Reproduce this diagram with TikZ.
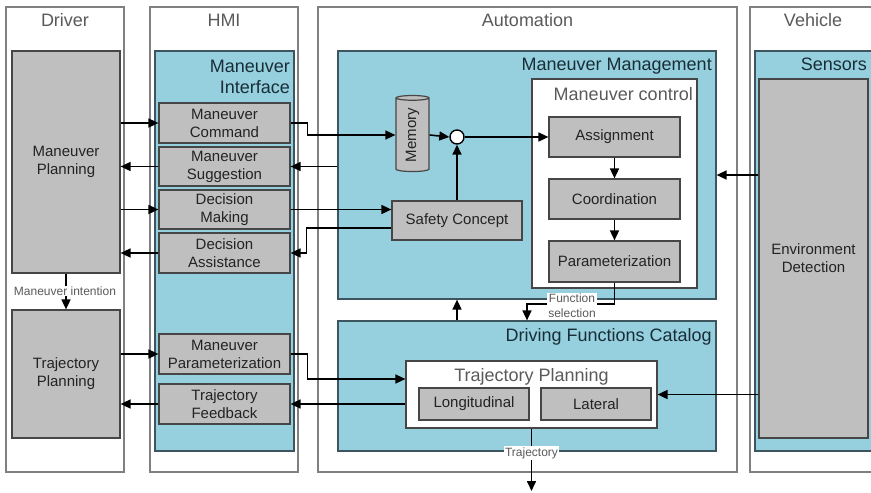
\documentclass[tikz,border=0pt]{standalone}
\usepackage{fontspec}
\setmainfont{Liberation Sans}
\usetikzlibrary{shapes.geometric,arrows.meta,calc}
\definecolor{colgray}{RGB}{128,128,128}
\definecolor{bluefill}{RGB}{150,208,222}
\definecolor{blueborder}{RGB}{60,85,95}
\definecolor{grayfill}{RGB}{191,191,191}
\definecolor{boxborder}{RGB}{70,70,70}
\definecolor{titlegray}{RGB}{90,90,90}
\definecolor{darktitle}{RGB}{25,45,55}
\definecolor{boxtext}{RGB}{35,35,35}
\begin{document}
\begin{tikzpicture}[x=1pt,y=-1pt,
  col/.style={draw=colgray, line width=1.2pt, fill=white, inner sep=0pt},
  bluebox/.style={draw=blueborder, line width=1.2pt, fill=bluefill, inner sep=0pt},
  whitebox/.style={draw=boxborder, line width=1.2pt, fill=white, inner sep=0pt},
  graybox/.style={draw=boxborder, line width=1.2pt, fill=grayfill, inner sep=0pt,
    font=\fontsize{15}{18}\selectfont, text=boxtext, align=center},
  coltitle/.style={font=\fontsize{18}{21.6}\selectfont, text=titlegray, inner sep=0pt, anchor=base},
  btitle/.style={font=\fontsize{18}{21.6}\selectfont, text=darktitle, inner sep=0pt, anchor=base east},
  wtitle/.style={font=\fontsize{18}{21.6}\selectfont, text=titlegray, inner sep=0pt},
  small/.style={font=\fontsize{12}{14.5}\selectfont, text=titlegray, fill=white, inner sep=1pt, align=center},
  arr/.style={line width=1.6pt, -{Triangle[length=10pt,width=9pt]}},
  sz/.style 2 args={minimum width=#1pt, minimum height=#2pt}
]
\useasboundingbox (0,0) rectangle (871,493);

% columns
\node[col, sz={118}{465}] (driver) at (65,239.5) {};
\node[col, sz={148}{465}] (hmi) at (224,239.5) {};
\node[col, sz={419}{465}] (auto) at (527.5,239.5) {};
\node[col, sz={128}{465}] (veh) at (814,239.5) {};
\node[coltitle] (tdriver) at (65,26.5) {Driver};
\node[coltitle] (thmi) at (224,26.5) {HMI};
\node[coltitle] (tauto) at (527.5,26.5) {Automation};
\node[coltitle] (tveh) at (813,26.5) {Vehicle};

% blue containers
\node[bluebox, sz={139}{400}] (mi) at (224.5,251) {};
\node[btitle] (tmi1) at (290,72.5) {Maneuver};
\node[btitle] (tmi2) at (290,93.5) {Interface};
\node[bluebox, sz={378}{248}] (mm) at (527,175) {};
\node[btitle] (tmm) at (712,70.5) {Maneuver Management};
\node[bluebox, sz={378}{130}] (dfc) at (527,386) {};
\node[btitle] (tdfc) at (712,341.5) {Driving Functions Catalog};
\node[bluebox, sz={118}{400}] (sens) at (814,251) {};
\node[btitle] (tsens) at (867,70.5) {Sensors};

% white containers
\node[whitebox, sz={165}{209}] (mctrl) at (614.5,183.5) {};
\node[wtitle, anchor=base east] (tmctrl) at (693,100.5) {Maneuver control};
\node[whitebox, sz={251}{67}] (trajp) at (531.5,394.5) {};
\node[wtitle, anchor=base] (ttrajp) at (531.5,381.5) {Trajectory Planning};

% gray boxes
\node[graybox, sz={108}{222}] (mp) at (66,162) {Maneuver\\Planning};
\node[graybox, sz={108}{128}] (tp) at (66,374) {Trajectory\\Planning};
\node[graybox, sz={131}{40}] (mc) at (224.5,123) {Maneuver\\Command};
\node[graybox, sz={131}{39}] (ms) at (224.5,166.5) {Maneuver\\Suggestion};
\node[graybox, sz={131}{39}] (dm) at (224.5,209.5) {Decision\\Making};
\node[graybox, sz={131}{40}] (da) at (224.5,253) {Decision\\Assistance};
\node[graybox, sz={131}{40}] (mpz) at (224.5,354) {Maneuver\\Parameterization};
\node[graybox, sz={131}{40}] (tf) at (224.5,404) {Trajectory\\Feedback};
\node[graybox, sz={131}{40}] (asg) at (614.5,137) {Assignment};
\node[graybox, sz={131}{40}] (coord) at (614.5,199) {Coordination};
\node[graybox, sz={131}{41}] (param) at (614.5,261.5) {Parameterization};
\node[graybox, sz={130}{39}] (safety) at (457,220.5) {Safety Concept};
\node[graybox, sz={110}{32}] (long) at (474,404) {Longitudinal};
\node[graybox, sz={110}{32}] (lat) at (596,404) {Lateral};
\node[graybox, sz={109}{359}] (ed) at (813.5,258.5) {Environment\\Detection};

% memory and junction
\node[cylinder, draw=boxborder, fill=grayfill, line width=1.2pt, rotate=90,
  minimum width=33pt, minimum height=76pt, aspect=0.35, inner sep=0pt,
  font=\fontsize{15}{18}\selectfont, text=boxtext] (mem) at (412.5,135) {Memory};
\node[circle, draw=black, fill=white, line width=1.4pt, minimum size=14pt, inner sep=0pt] (circ) at (457,137) {};

% driver <-> HMI
\draw[arr] (mp.east |- mc.west) -- (mc.west);
\draw[arr] (ms.west) -- (mp.east |- ms.west);
\draw[arr] (mp.east |- dm.west) -- (dm.west);
\draw[arr] (da.west) -- (mp.east |- da.west);
\draw[arr] (tp.east |- mpz.west) -- (mpz.west);
\draw[arr] (tf.west) -- (tp.east |- tf.west);
\draw[arr] (mp.south) -- (tp.north);

% HMI <-> automation
\draw[arr] (mc.east) -- ++(17,0) |- (mem.north);
\draw[arr] (mem.south) -- (circ.west);
\draw[arr] (circ.east) -- (asg.west);
\draw[arr] (safety.north) -- (circ.south);
\draw[arr] (mm.west |- ms.east) -- (ms.east);
\draw[arr] (dm.east) -- (dm.east -| safety.west);
\draw[arr] ($(safety.west)+(0,7.5)$) -- ++(-85,0) |- (da.east);
\draw[arr] (mpz.east) -- ++(17,0) |- ($(trajp.west)+(0,-15.5)$);
\draw[arr] (trajp.west |- tf.east) -- (tf.east);

% automation internal
\draw[arr] (asg.south) -- (coord.north);
\draw[arr] (coord.south) -- (param.north);
\draw[arr] (dfc.north -| circ) -- (mm.south -| circ);
\draw[arr] (param.south) -- ++(0,21.5) -| (dfc.north);
\coordinate (out) at (531.5,491);
\draw[arr] (trajp.south) -- (out);

% vehicle -> automation
\draw[arr] (ed.west |- mm.east) -- (mm.east);
\draw[arr] (ed.west |- trajp.east) -- (trajp.east);

% labels
\node[small] (lmi) at (65,291) {Maneuver intention};
\node[small] (lfs) at (572,305.5) {Function\\selection};
\node[small] (ltraj) at (531.5,453) {Trajectory};
\end{tikzpicture}
\end{document}
